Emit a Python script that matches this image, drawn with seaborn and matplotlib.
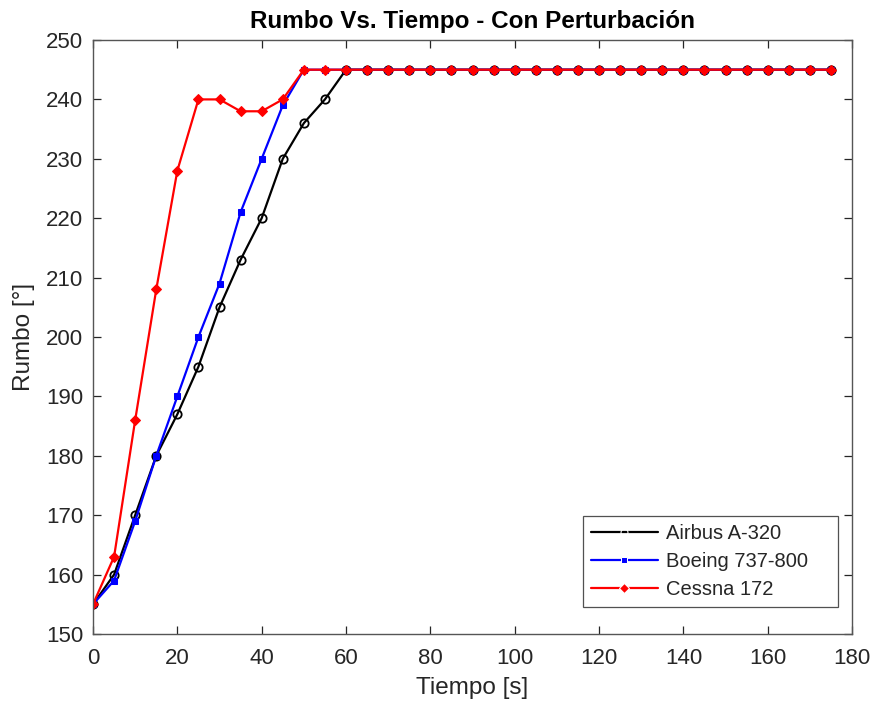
import numpy as np
import pandas as pd
import matplotlib
matplotlib.use("Agg")
import matplotlib.pyplot as plt
import seaborn as sns

# Heading response of three aircraft to a step command with a disturbance
tiempo = list(range(0, 180, 5))
airbus = [155, 160, 170, 180, 187, 195, 205, 213, 220, 230, 236, 240] + [245] * 24
boeing = [155, 159, 169, 180, 190, 200, 209, 221, 230, 239] + [245] * 26
cessna = [155, 163, 186, 208, 228, 240, 240, 238, 238, 240] + [245] * 26
aeronaves = ["Airbus A-320", "Boeing 737-800", "Cessna 172"]
x_ticks = list(range(0, 181, 20))
y_ticks = list(range(150, 251, 10))

df = pd.DataFrame({
    "Tiempo": tiempo * 3,
    "Rumbo": airbus + boeing + cessna,
    "Aeronave": np.repeat(aeronaves, len(tiempo)),
})

sns.set_theme(style="white")
plt.rcParams["font.family"] = ["Liberation Sans", "DejaVu Sans"]

fig = plt.figure(figsize=(8.74, 7.08), dpi=100)
ax = fig.add_axes([0.1064, 0.1045, 0.8685, 0.839])

palette = {"Airbus A-320": "#000000", "Boeing 737-800": "#0000ff", "Cessna 172": "#ff0000"}
markers = {"Airbus A-320": "o", "Boeing 737-800": "s", "Cessna 172": "D"}

sns.lineplot(data=df, x="Tiempo", y="Rumbo", hue="Aeronave", style="Aeronave",
             palette=palette, markers=markers, dashes=False, linewidth=1.6,
             ax=ax, legend=True)

# Marker look per series
for line, name in zip(ax.lines[:3], aeronaves):
    if name == "Airbus A-320":
        line.set_markerfacecolor("none")
        line.set_markeredgecolor("#000000")
        line.set_markersize(6)
        line.set_markeredgewidth(1.3)
    elif name == "Boeing 737-800":
        line.set_markerfacecolor("#0000ff")
        line.set_markeredgecolor("#0000ff")
        line.set_markersize(4.5)
    else:
        line.set_markerfacecolor("#ff0000")
        line.set_markeredgecolor("#ff0000")
        line.set_markersize(5)

ax.set_xlim(0, 180)
ax.set_ylim(150, 250)
ax.set_xticks(x_ticks)
ax.set_yticks(y_ticks)

ax.set_xlabel("Tiempo [s]", fontsize=17.5, color="#262626", labelpad=6)
ax.set_ylabel("Rumbo [°]", fontsize=17.5, color="#262626", labelpad=8)
ax.set_title("Rumbo Vs. Tiempo - Con Perturbación", fontsize=17.5, fontweight="bold",
             color="#000000", pad=9)

ax.tick_params(direction="in", length=6, width=0.9, colors="#262626",
               labelsize=16, top=True, right=True, bottom=True, left=True)
ax.tick_params(axis="x", pad=10)
ax.tick_params(axis="y", pad=7)
for s in ax.spines.values():
    s.set_color("#555555")
    s.set_linewidth(1.0)

# Legend box stretched to a fixed width, entries left-aligned inside it
handles, labels = ax.get_legend_handles_labels()
leg = ax.legend(handles, labels, loc="lower left",
                bbox_to_anchor=(0.6456, 0.0455, 0.336, 0.15), mode="expand",
                borderaxespad=0, fontsize=14.5, frameon=True, fancybox=False,
                edgecolor="#262626", handlelength=3.3, handletextpad=0.4,
                borderpad=0.4, labelspacing=0.45)
leg.get_frame().set_linewidth(0.9)
for h, name in zip(leg.legend_handles, labels):
    if name == "Airbus A-320":
        h.set_markerfacecolor("none")
        h.set_markersize(5)
    elif name == "Boeing 737-800":
        h.set_markersize(4)
    else:
        h.set_markersize(5)

fig.savefig("out.png", dpi=100)
